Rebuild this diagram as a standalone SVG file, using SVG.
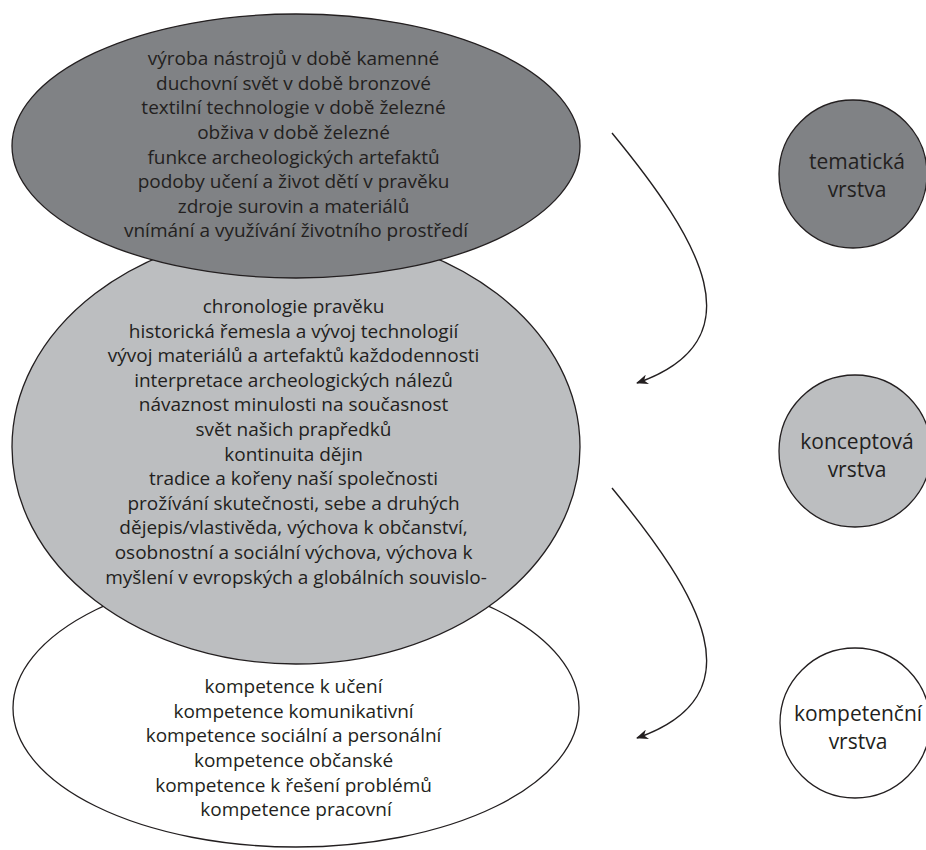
<svg xmlns="http://www.w3.org/2000/svg" width="926" height="850" viewBox="0 0 926 850">
<style>
.sh{stroke:#231f20;stroke-width:1.3}
.t{font-family:"Open Sans","Noto Sans",sans-serif;font-size:19px;fill:#231f20;text-anchor:middle}
.l{font-size:21px}
.c{fill:none;stroke:#231f20;stroke-width:1.4}
</style>
<defs>
<marker id="ah" viewBox="0 0 12 10" refX="11" refY="5" markerWidth="12" markerHeight="10" markerUnits="userSpaceOnUse" orient="auto">
<path d="M0,0 L12,5 L0,10 L3.5,5 z" fill="#231f20"/>
</marker>
</defs>
<rect width="926" height="850" fill="#ffffff"/>
<g id="kompetencni">
<ellipse class="sh" cx="296" cy="708" rx="283" ry="139" fill="#ffffff"/>
<text class="t">
<tspan x="296" y="693">kompetence k učení</tspan>
<tspan x="296" y="718">kompetence komunikativní</tspan>
<tspan x="296" y="742">kompetence sociální a personální</tspan>
<tspan x="296" y="767">kompetence občanské</tspan>
<tspan x="296" y="792">kompetence k řešení problémů</tspan>
<tspan x="296" y="816">kompetence pracovní</tspan>
</text>
</g>
<g id="konceptova">
<ellipse class="sh" cx="296" cy="447" rx="284" ry="217" fill="#bcbec0"/>
<text class="t">
<tspan x="296" y="313">chronologie pravěku</tspan>
<tspan x="296" y="338">historická řemesla a vývoj technologií</tspan>
<tspan x="296" y="362">vývoj materiálů a artefaktů každodennosti</tspan>
<tspan x="296" y="387">interpretace archeologických nálezů</tspan>
<tspan x="296" y="411">návaznost minulosti na současnost</tspan>
<tspan x="296" y="436">svět našich prapředků</tspan>
<tspan x="296" y="461">kontinuita dějin</tspan>
<tspan x="296" y="485">tradice a kořeny naší společnosti</tspan>
<tspan x="296" y="510">prožívání skutečnosti, sebe a druhých</tspan>
<tspan x="296" y="534">dějepis/vlastivěda, výchova k občanství,</tspan>
<tspan x="296" y="559">osobnostní a sociální výchova, výchova k</tspan>
<tspan x="296" y="584">myšlení v evropských a globálních souvislo-</tspan>
</text>
</g>
<g id="tematicka">
<ellipse class="sh" cx="296" cy="146" rx="284" ry="132" fill="#808285"/>
<text class="t">
<tspan x="296" y="65">výroba nástrojů v době kamenné</tspan>
<tspan x="296" y="90">duchovní svět v době bronzové</tspan>
<tspan x="296" y="114">textilní technologie v době železné</tspan>
<tspan x="296" y="139">obživa v době železné</tspan>
<tspan x="296" y="164">funkce archeologických artefaktů</tspan>
<tspan x="296" y="188">podoby učení a život dětí v pravěku</tspan>
<tspan x="296" y="213">zdroje surovin a materiálů</tspan>
<tspan x="296" y="237">vnímání a využívání životního prostředí</tspan>
</text>
</g>
<g id="legend-tematicka">
<circle class="sh" cx="853" cy="174" r="74" fill="#808285"/>
<text class="t l"><tspan x="857" y="169">tematická</tspan><tspan x="857" y="197">vrstva</tspan></text>
</g>
<g id="legend-konceptova">
<circle class="sh" cx="855" cy="451" r="76" fill="#bcbec0"/>
<text class="t l"><tspan x="857" y="449">konceptová</tspan><tspan x="857" y="477">vrstva</tspan></text>
</g>
<g id="legend-kompetencni">
<circle class="sh" cx="855" cy="723" r="75" fill="#ffffff"/>
<text class="t l"><tspan x="858" y="721">kompetenční</tspan><tspan x="858" y="749">vrstva</tspan></text>
</g>
<g id="connectors">
<path class="c" d="M612,133 C700,240 760,340 637,383" marker-end="url(#ah)"/>
<path class="c" d="M612,488 C700,595 760,695 637,738" marker-end="url(#ah)"/>
</g>
</svg>
